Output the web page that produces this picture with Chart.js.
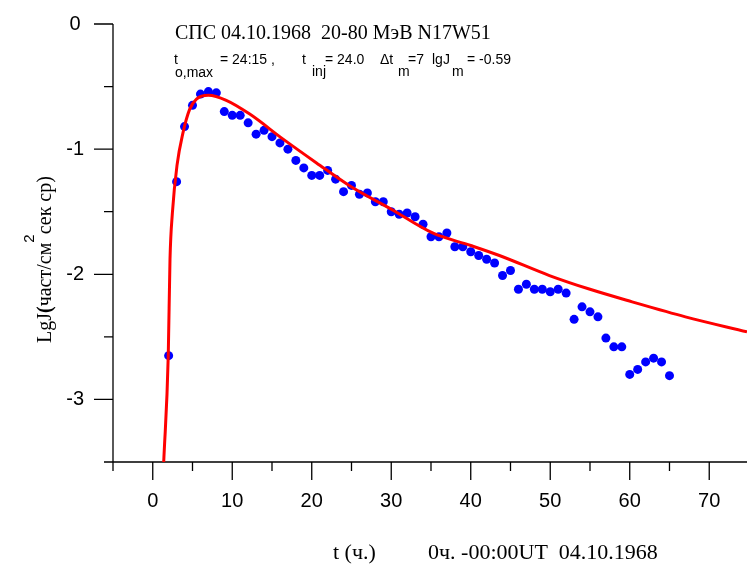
<!DOCTYPE html>
<html>
<head>
<meta charset="utf-8">
<script src="https://cdn.jsdelivr.net/npm/chart.js@4.4.1/dist/chart.umd.min.js"></script>
<style>
  body { margin: 0; background: #fff; }
  canvas { display: block; }
</style>
</head>
<body>
<canvas id="chart" width="747" height="565"></canvas>
<script>
// measured intensity, one point per hour
var hours = [2, 3, 4, 5, 6, 7, 8, 9, 10, 11, 12, 13, 14, 15, 16, 17, 18, 19, 20, 21,
             22, 23, 24, 25, 26, 27, 28, 29, 30, 31, 32, 33, 34, 35, 36, 37, 38, 39, 40, 41,
             42, 43, 44, 45, 46, 47, 48, 49, 50, 51, 52, 53, 54, 55, 56, 57, 58, 59, 60, 61,
             62, 63, 64, 65];
var lgJ = [-2.65, -1.26, -0.82, -0.65, -0.56, -0.54, -0.55, -0.70, -0.73, -0.73,
           -0.79, -0.88, -0.85, -0.90, -0.95, -1.00, -1.09, -1.15, -1.21, -1.21,
           -1.17, -1.24, -1.34, -1.29, -1.36, -1.35, -1.42, -1.42, -1.50, -1.52,
           -1.51, -1.54, -1.60, -1.70, -1.70, -1.67, -1.78, -1.78, -1.82, -1.85,
           -1.88, -1.91, -2.01, -1.97, -2.12, -2.08, -2.12, -2.12, -2.14, -2.12,
           -2.15, -2.36, -2.26, -2.30, -2.34, -2.51, -2.58, -2.58, -2.80, -2.76,
           -2.70, -2.67, -2.70, -2.81];

// model curve
var fitHours = [1.38, 1.95, 2.17, 2.47, 3.05, 3.8, 4.65, 5.5, 7.0, 9.25, 12.2, 16.4,
                20.6, 24.7, 30, 35.2, 40, 43.6, 49.9, 55, 60.3, 67, 74.75];
var fitLgJ = [-3.50, -2.65, -1.88, -1.51, -1.13, -0.87, -0.68, -0.60, -0.57, -0.61, -0.72, -0.92,
              -1.11, -1.29, -1.48, -1.67, -1.77, -1.85, -2.01, -2.12, -2.22, -2.34, -2.46];

var xTicks = [0, 10, 20, 30, 40, 50, 60, 70];
var xMinor = [-5, 5, 15, 25, 35, 45, 55, 65];
var yTicks = [0, -1, -2, -3];
var yMinor = [-0.5, -1.5, -2.5, -3.5];

var SERIF = '"Liberation Serif", "Times New Roman", serif';
var SANS = '"Liberation Sans", Arial, sans-serif';

function pts(xs, ys) {
  return xs.map(function (x, i) { return { x: x, y: ys[i] }; });
}

// axis lines, tick marks and the texts around the plot
var decor = {
  id: 'decor',
  beforeDatasetsDraw: function (chart) {
    var c = chart.ctx, xs = chart.scales.x, ys = chart.scales.y;
    var x0 = xs.getPixelForValue(-5);
    var yb = ys.getPixelForValue(-3.5);
    var yt = ys.getPixelForValue(0);
    c.save();
    c.strokeStyle = '#000';
    c.lineWidth = 1.3;
    c.beginPath();
    c.moveTo(x0, yt); c.lineTo(x0, yb);
    c.moveTo(x0, yb); c.lineTo(chart.width, yb);
    xTicks.forEach(function (v) {
      var p = xs.getPixelForValue(v);
      c.moveTo(p, yb); c.lineTo(p, yb + 18);
    });
    xMinor.forEach(function (v) {
      var p = xs.getPixelForValue(v);
      c.moveTo(p, yb); c.lineTo(p, yb + 9);
    });
    yTicks.forEach(function (v) {
      var p = ys.getPixelForValue(v);
      c.moveTo(x0 - 19, p); c.lineTo(x0, p);
    });
    yMinor.forEach(function (v) {
      var p = ys.getPixelForValue(v);
      c.moveTo(x0 - 9, p); c.lineTo(x0, p);
    });
    c.stroke();
    c.restore();
  },
  afterDraw: function (chart) {
    var c = chart.ctx;
    c.save();
    c.fillStyle = '#000';
    c.textBaseline = 'alphabetic';
    c.textAlign = 'left';

    c.font = '20px ' + SERIF;
    c.fillText('СПС 04.10.1968  20-80 МэВ N17W51', 175, 39);

    // second header line with subscripts
    var parts = [
      ['t', 174, 64], ['o,max', 175, 77], ['= 24:15 ,', 220, 64],
      ['t', 302, 64], ['inj', 312, 76], ['= 24.0', 325, 64],
      ['\u0394t', 380, 64], ['m', 398, 76], ['=7', 408, 64],
      ['lgJ', 432, 64], ['m', 452, 76], ['= -0.59', 467, 64]
    ];
    c.font = '14px ' + SANS;
    parts.forEach(function (p) { c.fillText(p[0], p[1], p[2]); });

    // x axis title
    c.font = '22px ' + SERIF;
    c.fillText('t (ч.)', 333, 559);
    c.fillText('0ч. -00:00UT  04.10.1968', 428, 559);

    // y axis title, rotated
    c.translate(51, 343);
    c.rotate(-Math.PI / 2);
    var x = 0;
    var segs = [
      ['LgJ', '20px ' + SERIF, 0],
      ['(', 'bold 20px ' + SERIF, 0],
      ['част/см', '20px ' + SERIF, 0],
      ['2', '15px ' + SANS, -17],
      ['сек ср)', '20px ' + SERIF, 0]
    ];
    segs.forEach(function (s) {
      c.font = s[1];
      c.fillText(s[0], x, s[2]);
      x += c.measureText(s[0]).width;
    });
    c.restore();
  }
};

new Chart(document.getElementById('chart'), {
  type: 'scatter',
  data: {
    datasets: [
      {
        label: 'fit',
        data: pts(fitHours, fitLgJ),
        showLine: true,
        borderColor: '#ff0000',
        borderWidth: 3,
        pointRadius: 0,
        cubicInterpolationMode: 'monotone',
        fill: false,
        order: 0
      },
      {
        label: 'data',
        data: pts(hours, lgJ),
        pointRadius: 4.5,
        pointBackgroundColor: '#0000ff',
        pointBorderWidth: 0,
        order: 1
      }
    ]
  },
  options: {
    responsive: false,
    animation: false,
    devicePixelRatio: 1,
    layout: { autoPadding: false, padding: { top: 24, right: 0, left: 0, bottom: 0 } },
    plugins: { legend: { display: false }, tooltip: { enabled: false } },
    scales: {
      x: {
        type: 'linear',
        min: -5,
        max: 74.75,
        grid: { display: false, drawTicks: true, tickLength: 27 },
        border: { display: false },
        afterBuildTicks: function (a) { a.ticks = xTicks.map(function (v) { return { value: v }; }); },
        afterFit: function (a) { a.height = 103; },
        ticks: { padding: 0, color: '#000', maxRotation: 0, autoSkip: false,
                 font: { family: SANS, size: 20 } }
      },
      y: {
        type: 'linear',
        min: -3.5,
        max: 0,
        grid: { display: false, drawTicks: true, tickLength: 29 },
        border: { display: false },
        afterBuildTicks: function (a) { a.ticks = yTicks.map(function (v) { return { value: v }; }); },
        afterFit: function (a) { a.width = 113; },
        ticks: { padding: 0, crossAlign: 'center', color: '#000', autoSkip: false,
                 font: { family: SANS, size: 20 } }
      }
    }
  },
  plugins: [decor]
});
</script>
</body>
</html>
